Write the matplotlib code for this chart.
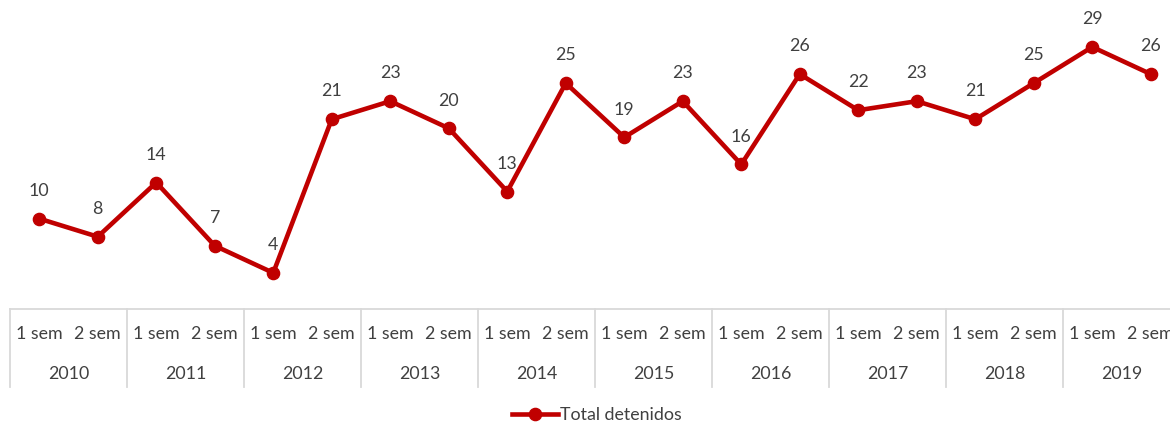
import matplotlib.pyplot as plt
import matplotlib.transforms as mtransforms

plt.rcParams['font.family'] = ['Lato', 'DejaVu Sans']

years = ['2010', '2011', '2012', '2013', '2014', '2015', '2016', '2017', '2018', '2019']
semesters = ['1 sem', '2 sem']
detenidos = [10, 8, 14, 7, 4, 21, 23, 20, 13, 25, 19, 23, 16, 26, 22, 23, 21, 25, 29, 26]

RED = '#C00000'
TXT = '#404040'
GRID = '#D9D9D9'

W, H = 1170, 423
fig = plt.figure(figsize=(W / 100, H / 100), dpi=100)
# axes in pixel terms: left 10, width 1170 (runs past the right edge), bottom at y=309
ax = fig.add_axes([10 / W, (H - 309) / H, 1170 / W, 309 / H])
ax.set_xlim(-0.5, len(detenidos) - 0.5)
ax.set_ylim(0, 34.2)
ax.axis('off')

x = list(range(len(detenidos)))
line, = ax.plot(x, detenidos, color=RED, lw=3.3, marker='o', ms=8.8,
                solid_joinstyle='miter', label='Total detenidos')

for xi, v in zip(x, detenidos):
    ax.annotate(str(v), (xi, v), xytext=(0, 20), textcoords='offset points',
                ha='center', va='center', fontsize=12.8, color=TXT)

# category table under the plot
trans = mtransforms.blended_transform_factory(ax.transData, ax.transAxes)
px = 1 / 309
ax.plot([-0.5, len(detenidos) - 0.5], [0, 0], transform=trans, color=GRID, lw=1.3, clip_on=False)
for k in range(len(years) + 1):
    xs = k * 2 - 0.5
    ax.plot([xs, xs], [0, -78 * px], transform=trans, color=GRID, lw=1.3, clip_on=False)
for i in x:
    ax.text(i, -25 * px, semesters[i % 2], transform=trans, ha='center', va='center',
            fontsize=12.8, color=TXT, clip_on=False)
for k, yr in enumerate(years):
    ax.text(k * 2 + 0.5, -65 * px, yr, transform=trans, ha='center', va='center',
            fontsize=12.8, color=TXT, clip_on=False)

fig.legend(handles=[line], loc='center', bbox_to_anchor=(597 / W, 1 - 415 / H),
           frameon=False, fontsize=12.8, labelcolor=TXT, handlelength=2.6, handletextpad=0.1)

fig.savefig('out.png', dpi=100)
